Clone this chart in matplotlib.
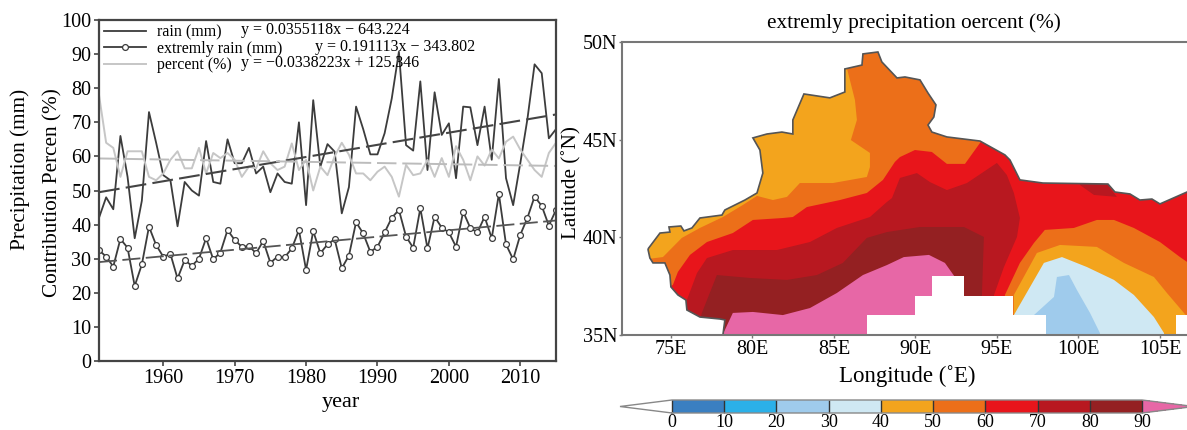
import numpy as np
import matplotlib
matplotlib.use("Agg")
import matplotlib.pyplot as plt
from matplotlib.colors import ListedColormap, BoundaryNorm
from matplotlib.colorbar import ColorbarBase
from matplotlib.patches import Polygon

plt.rcParams['font.family'] = ['Liberation Serif', 'DejaVu Serif']

W, H = 1187, 430

years = np.arange(1951, 2016)
rain = [42, 48, 44.5, 66, 54, 36, 47, 73, 64, 54.5, 53, 39.5, 52.5, 50, 48.5, 64.5,
        52.5, 52, 65, 58, 58, 62.5, 55, 57, 49.5, 55, 52.5, 52, 70, 45.7, 76.5, 57,
        63.6, 61.4, 43.3, 51, 74.6, 68, 60.6, 60.6, 66.8, 77, 90.7, 63.3, 61.7, 82,
        56, 78.8, 66.3, 69.7, 53.6, 74.6, 74.4, 63.3, 74.6, 59, 82.7, 53.6, 45.7,
        58, 71, 87, 84.4, 65.3, 68]
extreme = [32.5, 30.6, 27.7, 35.8, 33.2, 22, 28.3, 39.4, 34, 30.6, 31.4, 24.2, 29.6,
           27.9, 30, 36, 29.8, 31.8, 38.4, 35.5, 33.5, 33.7, 31.6, 35.2, 28.8, 30.6,
           30.4, 33, 38.4, 26.7, 38.1, 31.6, 34.2, 35.7, 27.2, 30.9, 40.7, 37.4, 32,
           33.5, 37.7, 42, 44.3, 36.5, 33.2, 44.8, 33, 42.3, 39.1, 37.7, 33.5, 43.8,
           39, 37.7, 42.3, 36, 49, 34.2, 29.8, 37, 42, 48.2, 45.5, 39.7, 44.3]
percent = [78, 64, 62.5, 54, 61.5, 61.5, 61.5, 54, 53, 55, 59, 61.5, 56.5, 56.5, 62.5,
           55, 61, 59.5, 61, 59, 54, 57, 56.5, 61.5, 58, 56, 57, 63.8, 56, 59, 50, 57,
           54.5, 60, 64, 60.5, 55, 55, 53, 55.5, 57, 54, 48.2, 57.5, 54.5, 55, 59, 54,
           59.5, 54, 63, 59, 53, 60, 57.3, 62, 59.4, 64.3, 65.8, 62, 59, 56, 54, 61, 64]
trend_years = [1951, 2015]
rain_trend = [49.5, 72.3]
extreme_trend = [29, 41.2]
percent_trend = [59.4, 57.2]

lon_ticks = [75, 80, 85, 90, 95, 100, 105]
lat_ticks = [35, 40, 45, 50]
levels = [0, 10, 20, 30, 40, 50, 60, 70, 80, 90]

level_colors = ['#3a7fc1', '#2bb0e8', '#9fcbec', '#cfe8f3', '#f3a41d',
                '#ec6f19', '#e8151b', '#b81820', '#942022']
pink = '#e767a6'

# region outline, lon / lat
outline = [(73.59, 39.40), (73.71, 38.94), (73.90, 38.69), (74.63, 38.69), (74.94, 38.07),
           (75.00, 37.46), (75.43, 37.05), (75.92, 36.79), (75.98, 36.28), (76.78, 35.92),
           (78.01, 35.82), (78.31, 35.77), (78.19, 35.00), (106.8, 35.00), (106.8, 42.32),
           (106.66, 42.32), (105.00, 41.71), (104.51, 41.96), (103.77, 41.91), (103.16, 42.22),
           (102.24, 42.32), (101.81, 42.73), (97.82, 42.78), (96.41, 42.94), (95.80, 43.96),
           (95.49, 44.22), (93.96, 44.93), (91.93, 45.14), (91.01, 45.39), (90.77, 45.75),
           (91.13, 46.16), (91.26, 46.78), (90.77, 47.39), (90.28, 48.06), (89.36, 48.21),
           (88.87, 48.16), (87.94, 48.98), (87.70, 49.49), (86.78, 49.39), (86.72, 48.82),
           (85.67, 48.62), (85.67, 47.44), (84.75, 47.14), (83.16, 47.34), (82.48, 46.01),
           (82.48, 45.29), (81.81, 45.39), (80.89, 45.29), (80.03, 45.09), (80.46, 44.47),
           (80.64, 43.29), (80.28, 42.27), (79.54, 41.91), (78.31, 41.40), (78.13, 41.14),
           (76.78, 40.99), (76.29, 40.48), (75.80, 40.33), (75.61, 40.58), (74.88, 40.53),
           (74.94, 40.27), (74.33, 40.22)]

orange_nw = [(73.10, 36.79), (75.12, 37.56), (75.43, 38.23), (76.17, 39.10), (77.21, 39.76),
             (78.80, 40.22), (80.03, 40.89), (81.87, 40.99), (82.48, 41.04), (83.34, 41.55),
             (85.37, 41.91), (87.02, 42.27), (88.01, 42.94), (88.74, 43.86), (89.05, 44.11),
             (89.97, 44.47), (91.01, 44.37), (91.93, 43.76), (93.04, 43.76), (93.96, 44.83),
             (94.57, 45.50), (94.57, 50.0), (73.10, 50.0)]
amber_n = [(85.67, 49.08), (86.29, 47.03), (86.41, 46.01), (86.04, 44.98), (87.21, 44.32),
           (87.21, 43.60), (87.02, 43.09), (84.94, 42.78), (82.91, 42.78), (82.12, 42.07),
           (81.26, 41.91), (80.28, 42.12), (79.23, 43.45), (79.23, 49.08)]
amber_w = [(73.10, 38.84), (74.51, 38.99), (75.67, 39.97), (76.78, 40.48), (78.19, 41.04),
           (79.42, 41.66), (80.28, 42.12), (80.46, 42.94), (76.78, 42.42), (73.10, 40.89)]
dark_red = [(75.98, 36.79), (76.60, 38.17), (77.21, 38.94), (78.80, 39.35), (81.50, 39.35),
            (83.53, 39.76), (85.18, 40.48), (87.21, 41.04), (88.25, 41.81), (88.56, 42.01),
            (89.05, 43.04), (90.09, 43.29), (90.89, 42.83), (91.93, 42.42), (93.16, 42.78),
            (95.00, 43.81), (95.61, 43.19), (96.04, 42.27), (96.41, 40.99), (96.23, 40.02),
            (95.43, 38.48), (94.82, 37.05), (94.82, 34.75), (75.55, 34.75)]
dark_red_top = [(100.09, 42.68), (100.95, 42.17), (102.36, 42.07), (101.93, 42.53),
                (101.75, 42.94), (100.09, 42.94)]
darkest = [(76.90, 36.13), (77.82, 38.07), (79.85, 37.92), (82.12, 37.82), (83.96, 38.07),
           (85.55, 38.69), (87.02, 39.97), (88.25, 40.27), (90.28, 40.53), (92.98, 40.53),
           (94.20, 40.02), (94.08, 37.05), (94.08, 34.75), (76.47, 34.75)]
pink_area = [(78.25, 35.15), (78.80, 36.13), (80.03, 36.18), (81.87, 36.02), (83.53, 36.38),
             (85.18, 37.15), (86.78, 38.07), (88.25, 38.58), (89.29, 38.99), (90.83, 39.10),
             (91.81, 38.69), (92.42, 37.97), (92.42, 34.75), (78.01, 34.75)]
orange_e = [(95.49, 37.05), (96.41, 38.69), (97.27, 39.71), (97.94, 40.38), (99.72, 40.48),
            (101.13, 40.89), (102.18, 40.89), (103.40, 40.48), (105.00, 39.76), (106.23, 38.99),
            (106.84, 38.64), (106.84, 34.75), (95.49, 34.75)]
amber_e = [(96.04, 37.05), (97.45, 39.20), (98.87, 39.61), (101.13, 39.51), (102.79, 38.69),
           (104.63, 37.97), (105.43, 37.15), (106.84, 35.77), (106.84, 34.75), (96.04, 34.75)]
pale_e = [(96.04, 36.02), (97.88, 38.69), (98.99, 38.99), (100.52, 38.48), (102.18, 37.82),
          (103.40, 37.05), (104.63, 35.92), (105.25, 35.10), (105.25, 34.75), (96.04, 34.75)]
blue_e = [(97.27, 36.02), (98.50, 36.95), (98.68, 37.97), (99.42, 38.07), (99.91, 37.30),
          (100.71, 36.13), (101.32, 35.10), (101.32, 34.75), (97.27, 34.75)]
nodata_mid = [(87, 35), (87, 36), (90, 36), (90, 37), (91, 37), (91, 38), (93, 38), (93, 37),
              (96, 37), (96, 36), (98, 36), (98, 35)]
nodata_right = [(106, 35), (106, 36), (107, 36), (107, 35)]


def box(left, top, right, bottom):
    return [left / W, 1 - bottom / H, (right - left) / W, (bottom - top) / H]


def label(x, y, s, size=15.3, **kw):
    fig.text(x / W, 1 - y / H, s, ha='center', va='center', fontsize=size, **kw)


fig = plt.figure(figsize=(W / 100, H / 100), dpi=100)

# time series
ax = fig.add_axes(box(99, 20, 556, 361))
ax.plot(years, rain, color='#3c3c3c', lw=1.3, label='rain (mm)')
ax.plot(years, extreme, color='#3c3c3c', lw=1.3, marker='o', ms=4.2, mfc='white',
        mec='#3c3c3c', mew=0.9, label='extremly rain (mm)')
ax.plot(years, percent, color='#c6c6c6', lw=1.4, label='percent (%)')
ax.plot(trend_years, rain_trend, color='#444444', lw=1.5, dashes=(10, 3))
ax.plot(trend_years, extreme_trend, color='#555555', lw=1.3, dashes=(10, 3))
ax.plot(trend_years, percent_trend, color='#bcbcbc', lw=1.4, dashes=(10, 3))
ax.set_xlim(1951, 2015)
ax.set_ylim(0, 100)
ax.set_xticks([1960, 1970, 1980, 1990, 2000, 2010])
ax.set_yticks(np.arange(0, 101, 10))
ax.tick_params(labelsize=14.5, length=3.5, width=1.2, color='#444444', pad=2)
for s in ax.spines.values():
    s.set_linewidth(1.6)
    s.set_color('#444444')
ax.legend(loc='upper left', bbox_to_anchor=(0.01, 0.987), frameon=False, fontsize=11.5,
          handlelength=2.65, handletextpad=0.7, labelspacing=0.03, borderpad=0, borderaxespad=0)
fig.text(241 / W, 1 - 30 / H, 'y = 0.0355118x \u2212 643.224', fontsize=11.5, va='center')
fig.text(315 / W, 1 - 47 / H, 'y = 0.191113x \u2212 343.802', fontsize=11.5, va='center')
fig.text(241 / W, 1 - 63 / H, 'y = \u22120.0338223x + 125.346', fontsize=11.5, va='center')
label(20, 169, 'Precipitation (mm)', rotation=90)
label(53, 193, 'Contribution Percen (%)', rotation=90)
label(341, 402, 'year', size=16)

# map
mp = fig.add_axes(box(622, 42, 1187, 335))
mp.set_xlim(72, 106.66)
mp.set_ylim(35, 50)
region = Polygon(outline, closed=True, fc=level_colors[6], ec='none', zorder=1)
mp.add_patch(region)
fills = [(orange_nw, level_colors[5]), (amber_n, level_colors[4]), (amber_w, level_colors[4]),
         (dark_red, level_colors[7]), (dark_red_top, level_colors[7]), (darkest, level_colors[8]),
         (pink_area, pink), (orange_e, level_colors[5]), (amber_e, level_colors[4]),
         (pale_e, level_colors[3]), (blue_e, level_colors[2])]
for pts, c in fills:
    p = Polygon(pts, closed=True, fc=c, ec='none', zorder=1.2)
    mp.add_patch(p)
    p.set_clip_path(region)
mp.add_patch(Polygon(outline, closed=True, fc='none', ec='#555555', lw=1.2, zorder=1.4))
mp.add_patch(Polygon(nodata_mid, closed=True, fc='white', ec='none', zorder=1.6))
mp.add_patch(Polygon(nodata_right, closed=True, fc='white', ec='none', zorder=1.6))
mp.set_xticks(lon_ticks)
mp.set_xticklabels(['%dE' % v for v in lon_ticks])
mp.set_yticks(lat_ticks)
mp.set_yticklabels(['%dN' % v for v in lat_ticks])
mp.tick_params(labelsize=14.5, length=2, width=1, color='#777777', pad=1.5)
for s in mp.spines.values():
    s.set_linewidth(1.5)
    s.set_color('#777777')
mp.spines['right'].set_visible(False)
label(914, 23, 'extremly precipitation oercent (%)')
label(907, 376, 'Longitude (\u02daE)', size=16.5)
label(572, 183, 'Latitude (\u02daN)', rotation=90)

# colour bar, the extend triangles sit inside this box
cax = fig.add_axes(box(620, 400, 1194, 413))
cmap = ListedColormap(level_colors)
cmap.set_under('white')
cmap.set_over(pink)
cb = ColorbarBase(cax, cmap=cmap, norm=BoundaryNorm(levels, 9), orientation='horizontal',
                  extend='both', extendfrac=52 / 470, ticks=levels, drawedges=True,
                  spacing='uniform')
cb.dividers.set_color('#333333')
cb.dividers.set_linewidth(1)
cb.outline.set_edgecolor('#888888')
cb.outline.set_linewidth(1)
cax.tick_params(labelsize=13, length=0, pad=0.5)

fig.savefig('out.png', dpi=100)
